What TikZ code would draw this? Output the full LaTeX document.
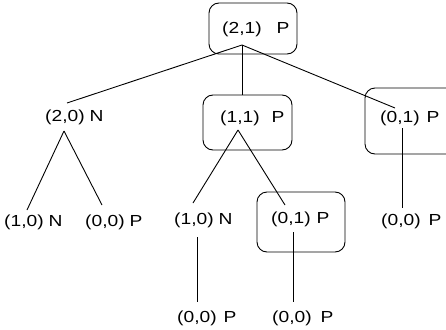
\documentclass[tikz,border=0pt]{standalone}
\usepackage{fontspec}
\setmainfont{Liberation Sans}[FakeStretch=1.2]
\newcommand{\lbl}[3]{#1\hspace{#2pt}#3}
\tikzset{
  lab/.style={inner sep=0pt, anchor=west, font=\fontsize{16}{19}\selectfont},
  rbox/.style={draw, line width=0.9pt, rounded corners=10pt, inner sep=0pt},
  conn/.style={line width=0.9pt},
}
\begin{document}
\begin{tikzpicture}[x=1pt,y=-1pt]
\useasboundingbox (0,0) rectangle (446,329);
\clip (0,0) rectangle (446,329);
% boxes
\node[rbox, minimum width=88pt, minimum height=51pt] (bA) at (253,28.5) {};
\node[rbox, minimum width=89pt, minimum height=55pt] (bC) at (247.5,122.5) {};
\node[rbox, minimum width=95pt, minimum height=66pt] (bD) at (412.5,121) {};
\node[rbox, minimum width=88pt, minimum height=60pt] (bH) at (301,222) {};
% labels
\node[lab] (A) at (222,29)  {\lbl{(2,1)}{15}{P}};
\node[lab] (B) at (45,117)  {\lbl{(2,0)}{5}{N}};
\node[lab] (C) at (220,118) {\lbl{(1,1)}{12}{P}};
\node[lab] (D) at (380,118) {\lbl{(0,1)}{7}{P}};
\node[lab] (E) at (4,222)   {\lbl{(1,0)}{5}{N}};
\node[lab] (F) at (85,222)  {\lbl{(0,0)}{5}{P}};
\node[lab] (G) at (174,220) {\lbl{(1,0)}{5}{N}};
\node[lab] (H) at (271,219) {\lbl{(0,1)}{6}{P}};
\node[lab] (I) at (381,221) {\lbl{(0,0)}{8}{P}};
\node[lab] (J) at (177,318) {\lbl{(0,0)}{7}{P}};
\node[lab] (K) at (272,318) {\lbl{(0,0)}{9}{P}};
% connector end points
\coordinate (Ab) at (242,45);
\coordinate (Bt) at (67,103);
\coordinate (Ct) at (242,95);
\coordinate (Dt) at (395,108);
\coordinate (Bb) at (64,131);
\coordinate (Et) at (27,210);
\coordinate (Ft) at (102,205);
\coordinate (Cb) at (238,130);
\coordinate (Gt) at (193,203);
\coordinate (Ht) at (285,205);
\coordinate (Db) at (402,128);
\coordinate (It) at (402,208);
\coordinate (Gb) at (197,237);
\coordinate (Jt) at (197,302);
\coordinate (Hb) at (293,232);
\coordinate (Kt) at (293,302);
% connectors
\draw[conn] (Ab) -- (Bt);
\draw[conn] (Ab) -- (Ct);
\draw[conn] (Ab) -- (Dt);
\draw[conn] (Bb) -- (Et);
\draw[conn] (Bb) -- (Ft);
\draw[conn] (Cb) -- (Gt);
\draw[conn] (Cb) -- (Ht);
\draw[conn] (Db) -- (It);
\draw[conn] (Gb) -- (Jt);
\draw[conn] (Hb) -- (Kt);
\end{tikzpicture}
\end{document}
